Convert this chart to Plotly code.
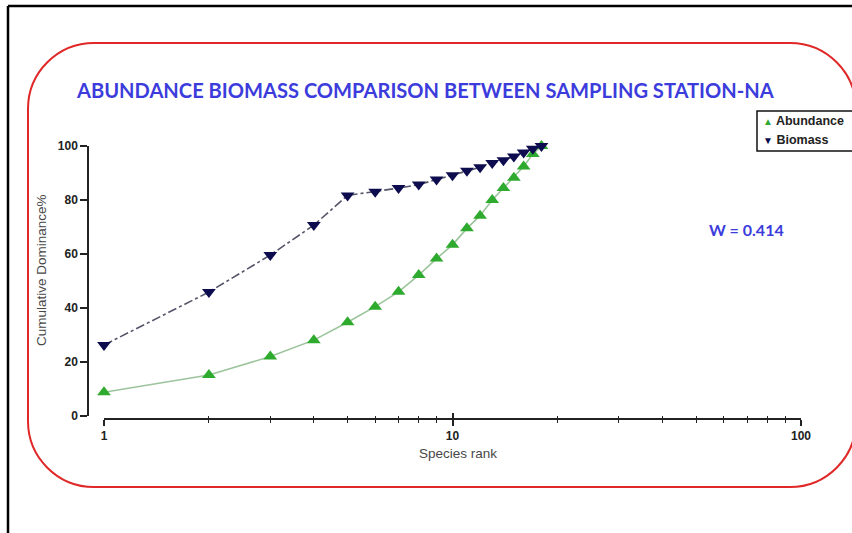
import plotly.graph_objects as go

# ---- data ----
species_rank = list(range(1, 19))
abundance = [8.8, 15.2, 22.0, 28.1, 34.7, 40.5, 46.0, 52.2, 58.3, 63.4, 69.5, 74.2, 80.0, 84.4, 88.2, 92.4, 97.0, 100.0]
biomass = [26.3, 45.9, 59.6, 70.7, 81.7, 83.1, 84.4, 85.7, 87.6, 89.2, 90.8, 92.1, 93.7, 94.7, 96.1, 97.6, 99.0, 100.0]
x_major = [1, 10, 100]
x_minor = [2, 3, 4, 5, 6, 7, 8, 9, 20, 30, 40, 50, 60, 70, 80, 90]
y_ticks = [0, 20, 40, 60, 80, 100]
series_names = ["Abundance", "Biomass"]
series_symbols = ["▲", "▼"]
title_text = "ABUNDANCE BIOMASS COMPARISON BETWEEN SAMPLING STATION-NA"
x_title = "Species rank"
y_title = "Cumulative Dominance%"
w_text = "W = 0.414"

W, H = 852, 533


def px(x):
    return x / W


def py(y):
    return 1 - y / H


BLUE_TXT = "#3c3cdc"
GREEN = "#2eaa2e"
NAVY = "#0c0c4e"
series_colors = [GREEN, NAVY]
TICK_FONT = dict(family="Liberation Sans, Arial", size=12, color="#222222", weight="bold")
LABEL_FONT = dict(family="Liberation Sans, Arial", size=13.5, color="#474747")

fig = go.Figure()

fig.add_trace(go.Scatter(
    x=species_rank, y=abundance, mode="lines+markers", name=series_names[0],
    line=dict(color="#9cc49c", width=1.6),
    marker=dict(symbol="triangle-up", size=12, color=GREEN),
    showlegend=False, cliponaxis=False,
))
fig.add_trace(go.Scatter(
    x=species_rank, y=biomass, mode="lines+markers", name=series_names[1],
    line=dict(color="#55556a", width=1.6, dash="dashdot"),
    marker=dict(symbol="triangle-down", size=12, color=NAVY),
    showlegend=False, cliponaxis=False,
))

xr = [0, 2]
yr = [0, 100]

fig.update_layout(
    width=W, height=H,
    margin=dict(l=0, r=0, t=0, b=0, autoexpand=False),
    paper_bgcolor="white", plot_bgcolor="white",
    showlegend=False,
    xaxis=dict(
        type="log", range=xr, domain=[px(104), px(801)],
        anchor="free", position=py(419),
        showgrid=False, zeroline=False,
        showline=True, linecolor="#222222", linewidth=1.5,
        tickvals=x_major, ticktext=[str(v) for v in x_major],
        ticks="outside", ticklen=6, tickwidth=1.5, tickcolor="#222222",
        minor=dict(tickvals=x_minor, ticks="outside", ticklen=3, tickwidth=1.2, tickcolor="#222222", showgrid=False),
        tickfont=TICK_FONT,
    ),
    xaxis2=dict(
        type="log", range=xr, domain=[px(104), px(801)],
        anchor="free", position=py(419), overlaying="x",
        showgrid=False, zeroline=False, showline=False,
        tickvals=x_major, ticks="inside", ticklen=6, tickwidth=1.5, tickcolor="#222222",
        minor=dict(tickvals=x_minor, ticks="inside", ticklen=3, tickwidth=1.2, tickcolor="#222222", showgrid=False),
        showticklabels=False,
    ),
    yaxis=dict(
        range=yr, domain=[py(416), py(146)],
        anchor="free", position=px(88),
        showgrid=False, zeroline=False,
        showline=True, linecolor="#222222", linewidth=1.5,
        tickvals=y_ticks, ticks="outside", ticklen=7, tickwidth=1.5, tickcolor="#222222",
        tickfont=TICK_FONT,
    ),
    yaxis2=dict(
        range=yr, domain=[py(416), py(146)],
        anchor="free", position=px(88), overlaying="y",
        showgrid=False, zeroline=False, showline=False,
        tickvals=[yr[0], yr[1]], ticks="inside", ticklen=5, tickwidth=1.5, tickcolor="#222222",
        showticklabels=False,
    ),
)

# empty trace so the overlay axes (two-sided ticks) are drawn
fig.add_trace(go.Scatter(x=[None], y=[None], xaxis="x2", yaxis="y2", showlegend=False, hoverinfo="skip"))

# axis titles
fig.add_annotation(text=x_title, xref="paper", yref="paper", x=px(458), y=py(453),
                   xanchor="center", yanchor="middle", showarrow=False, font=LABEL_FONT)
fig.add_annotation(text=y_title, xref="paper", yref="paper", x=px(41), y=py(270),
                   xanchor="center", yanchor="middle", showarrow=False, textangle=-90, font=LABEL_FONT)

# title and W statistic
fig.add_annotation(text=title_text, xref="paper", yref="paper", x=px(425), y=py(90),
                   xanchor="center", yanchor="middle", showarrow=False,
                   font=dict(family="Lato, Open Sans, sans-serif", size=20.1, color=BLUE_TXT, weight="bold"))
fig.add_annotation(text=w_text, xref="paper", yref="paper", x=px(746), y=py(230),
                   xanchor="center", yanchor="middle", showarrow=False,
                   font=dict(family="Lato, Open Sans, sans-serif", size=16, color=BLUE_TXT, weight="bold"))

# boxed key for the two series, running off the right edge
fig.add_shape(type="rect", xref="paper", yref="paper", x0=px(757), y0=py(151), x1=px(870), y1=py(111),
              line=dict(color="#111111", width=1.5), fillcolor="white", layer="above")
for i, (name, sym, col) in enumerate(zip(series_names, series_symbols, series_colors)):
    fig.add_annotation(
        text=f"<span style='color:{col};font-size:10px'>{sym}</span> {name}",
        xref="paper", yref="paper", x=px(761), y=py(121 + 19 * i),
        xanchor="left", yanchor="middle", showarrow=False,
        font=dict(family="Liberation Sans, Arial", size=12.5, color="#222222", weight="bold"),
    )

# rounded red frame (pixel geometry converted to paper coordinates)
x0, x1, y0, y1, r = 28, 856, 43, 487, 66
k = 0.5523 * r


def P(x, y):
    return f"{px(x):.5f},{py(y):.5f}"


frame_path = (
    f"M {P(x0 + r, y0)} L {P(x1 - r, y0)} "
    f"C {P(x1 - r + k, y0)} {P(x1, y0 + r - k)} {P(x1, y0 + r)} "
    f"L {P(x1, y1 - r)} "
    f"C {P(x1, y1 - r + k)} {P(x1 - r + k, y1)} {P(x1 - r, y1)} "
    f"L {P(x0 + r, y1)} "
    f"C {P(x0 + r - k, y1)} {P(x0, y1 - r + k)} {P(x0, y1 - r)} "
    f"L {P(x0, y0 + r)} "
    f"C {P(x0, y0 + r - k)} {P(x0 + r - k, y0)} {P(x0 + r, y0)} Z"
)
fig.add_shape(type="path", path=frame_path, xref="paper", yref="paper",
              line=dict(color="#e02828", width=2), layer="below")

# outer black border along the top and left edges
fig.add_shape(type="line", xref="paper", yref="paper", x0=px(8), y0=py(6), x1=px(852), y1=py(6),
              line=dict(color="black", width=2.5))
fig.add_shape(type="line", xref="paper", yref="paper", x0=px(8), y0=py(6), x1=px(8), y1=py(533),
              line=dict(color="black", width=2.5))

fig.write_html("out.html")
